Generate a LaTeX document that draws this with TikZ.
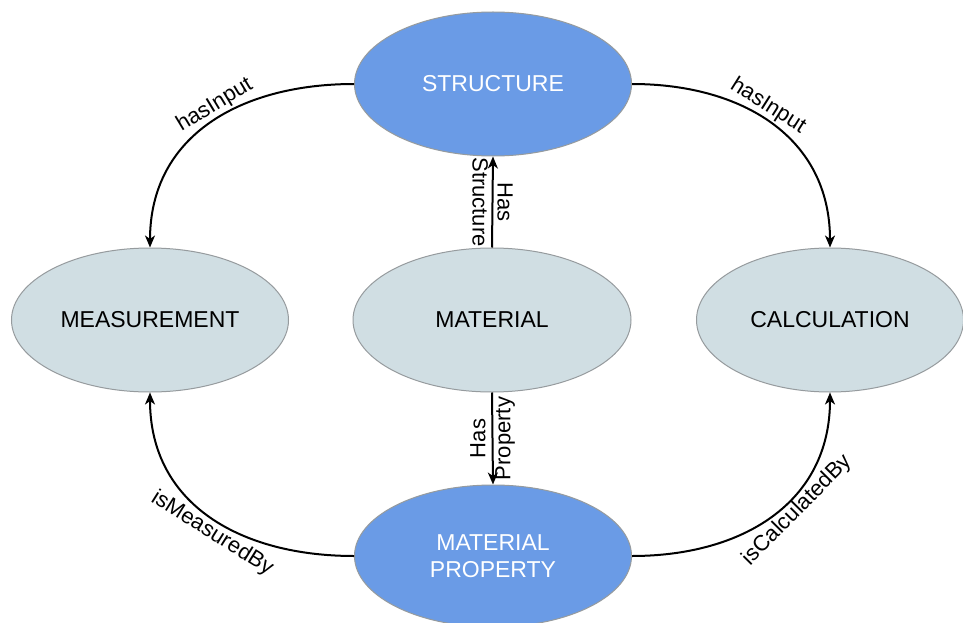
\documentclass[tikz,border=0pt]{standalone}
\usepackage{fontspec}
\setmainfont{Liberation Sans}
\usetikzlibrary{shapes.geometric,arrows.meta}
\definecolor{bluefill}{RGB}{106,155,230}
\definecolor{greyfill}{RGB}{208,222,227}
\definecolor{edgegrey}{RGB}{150,155,158}
\tikzset{
  ell/.style={ellipse, draw=edgegrey, line width=1pt, inner sep=0pt,
    minimum height=144pt, align=center, font=\fontsize{23}{27}\selectfont},
  bluenode/.style={ell, fill=bluefill, text=white},
  greynode/.style={ell, fill=greyfill, text=black},
  conn/.style={line width=2pt, -{Stealth[length=12pt,width=10pt,inset=3.5pt]}},
  lab/.style={font=\fontsize{22}{24}\selectfont, text=black, inner sep=1.5pt},
}
\begin{document}
\begin{tikzpicture}[x=1pt,y=-1pt]
\useasboundingbox (0,0) rectangle (963,623);
\clip (0,0) rectangle (963,623);
\fill[white] (0,0) rectangle (963,623);

\node[bluenode, minimum width=277pt] (str) at (493,84) {STRUCTURE};
\node[greynode, minimum width=277pt] (mea) at (150,320) {MEASUREMENT};
\node[greynode, minimum width=278pt] (mat) at (492,320) {MATERIAL};
\node[greynode, minimum width=267pt] (cal) at (830,320) {CALCULATION};
\node[bluenode, minimum width=277pt, minimum height=142pt] (mp) at (493,556) {MATERIAL\\PROPERTY};

\draw[conn] (str.west) to[out=180,in=90, looseness=1.1]
  node[lab, sloped, above, pos=0.45] {hasInput} (mea.north);
\draw[conn] (str.east) to[out=0,in=90, looseness=1.1]
  node[lab, sloped, above, pos=0.45] {hasInput} (cal.north);
\draw[conn] (mp.west) to[out=180,in=-90, looseness=1.1]
  node[lab, sloped, below, pos=0.46] {isMeasuredBy} (mea.south);
\draw[conn] (mp.east) to[out=0,in=-90, looseness=1.1]
  node[lab, sloped, below, pos=0.58] {isCalculatedBy} (cal.south);

\draw[conn] (mat.north) -- node[lab, rotate=-90, align=center, font=\fontsize{22}{25}\selectfont] {Has\\Structure} (str.south);
\draw[conn] (mat.south) -- node[lab, rotate=90, align=center, font=\fontsize{22}{25}\selectfont] {Has\\Property} (mp.north);
\end{tikzpicture}
\end{document}
